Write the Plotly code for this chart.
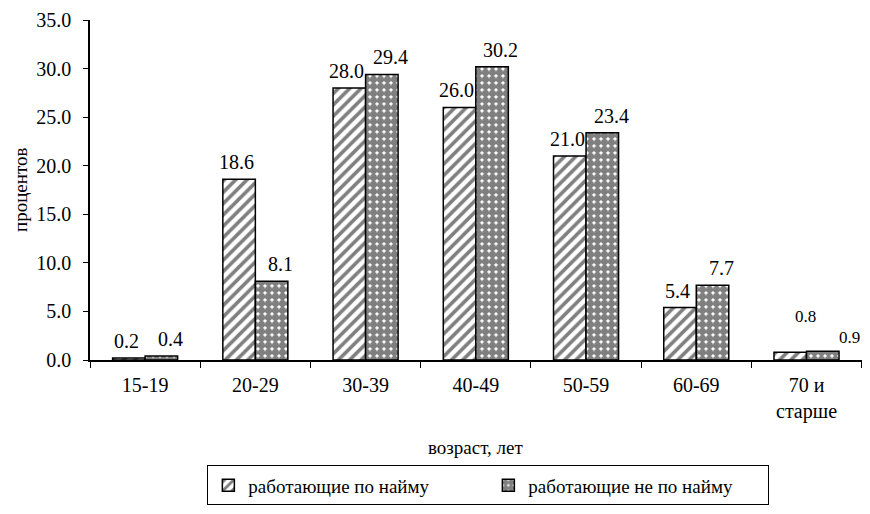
import plotly.graph_objects as go

categories = ["15-19", "20-29", "30-39", "40-49", "50-59", "60-69", "70 и<br>старше"]
hired = [0.2, 18.6, 28.0, 26.0, 21.0, 5.4, 0.8]
not_hired = [0.4, 8.1, 29.4, 30.2, 23.4, 7.7, 0.9]
series_names = ["работающие по найму", "работающие не по найму"]

FONT = "Liberation Serif, Times New Roman, serif"
FS = 20

fig = go.Figure()
fig.add_trace(go.Bar(
    x=categories, y=hired, name=series_names[0],
    marker=dict(color="white", line=dict(color="black", width=1.5),
                pattern=dict(shape="/", fgcolor="black", bgcolor="white", size=8, solidity=0.45)),
    hoverinfo="x+y",
))
fig.add_trace(go.Bar(
    x=categories, y=not_hired, name=series_names[1],
    marker=dict(color="white", line=dict(color="black", width=1.5),
                pattern=dict(shape=".", fgcolor="black", bgcolor="white", size=7, solidity=0.8)),
    hoverinfo="x+y",
))

annotations = [
    dict(text="возраст, лет", xref="paper", yref="paper", x=0.5, y=-0.257,
         xanchor="center", yanchor="middle", showarrow=False,
         font=dict(family=FONT, size=19)),
    dict(text="процентов", xref="paper", yref="paper", x=-0.0907, y=0.5,
         xanchor="center", yanchor="middle", textangle=-90, showarrow=False,
         font=dict(family=FONT, size=19)),
]

n = len(categories)
for i, (cat, a, b) in enumerate(zip(categories, hired, not_hired)):
    last = i == n - 1
    annotations.append(dict(
        text=f"{a:.1f}", x=cat, y=a, xref="x", yref="y", xanchor="center", yanchor="middle",
        xshift=-1 if last else -19, yshift=36 if last else 17, showarrow=False,
        font=dict(family=FONT, size=17 if last else FS)))
    annotations.append(dict(
        text=f"{b:.1f}", x=cat, y=b, xref="x", yref="y", xanchor="center", yanchor="middle",
        xshift=43 if last else 25, yshift=14 if last else 17, showarrow=False,
        font=dict(family=FONT, size=17 if last else FS)))

fig.update_layout(
    width=862, height=506,
    margin=dict(l=82, r=8, t=12, b=152),
    paper_bgcolor="white", plot_bgcolor="white",
    font=dict(family=FONT, size=FS, color="black"),
    barmode="group", bargap=0.41, bargroupgap=0,
    showlegend=True,
    legend=dict(orientation="h", x=0.516, xanchor="center", y=-0.31, yanchor="top",
                bordercolor="black", borderwidth=1, font=dict(family=FONT, size=19),
                itemwidth=30, entrywidth=235),
    xaxis=dict(showline=True, linecolor="black", linewidth=1.5, ticks="outside",
               tickson="boundaries", ticklen=6, tickcolor="black", showgrid=False,
               automargin=False, ticklabelstandoff=6, tickfont=dict(family=FONT, size=FS)),
    yaxis=dict(range=[0, 35], dtick=5, tickformat=".1f", showline=True, linecolor="black",
               linewidth=1.5, ticks="outside", ticklen=5, tickcolor="black", showgrid=False,
               zeroline=False, automargin=False, ticklabelstandoff=8,
               tickfont=dict(family=FONT, size=FS)),
    annotations=annotations,
)

fig.write_html("out.html")
